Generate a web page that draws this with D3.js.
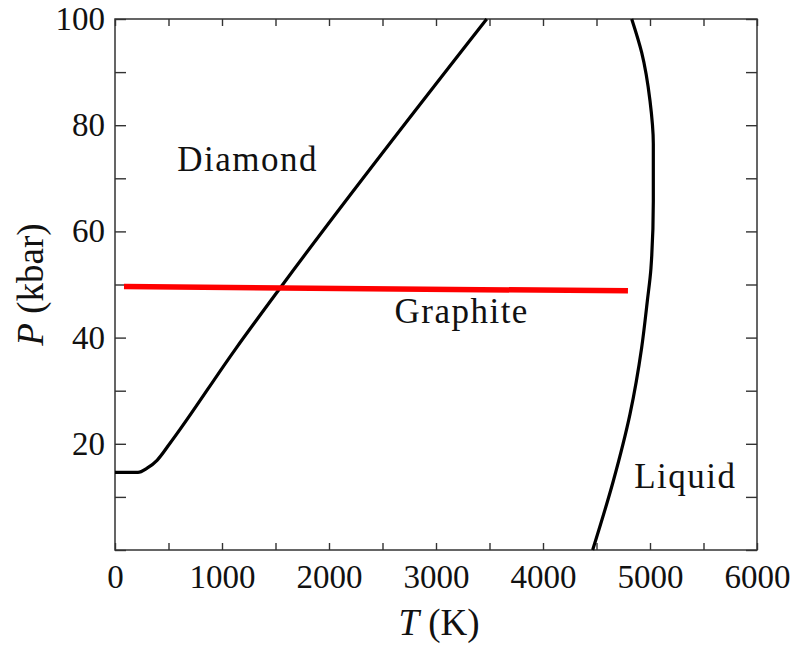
<!DOCTYPE html>
<html>
<head>
<meta charset="utf-8">
<script src="https://cdn.jsdelivr.net/npm/d3@7"></script>
<style>
  body { margin: 0; background: #fff; }
  text { font-family: "Liberation Serif", "Times New Roman", serif; fill: #111; }
</style>
</head>
<body>
<div id="chart"></div>
<script>
// Phase boundaries (T in K, P in kbar)
const diamondT = [0, 215, 300, 393, 514, 1121, 1542, 3474];
const diamondP = [14.6, 14.6, 15.4, 16.9, 20.1, 37.7, 49.3, 100];

const liquidT = [4829, 4922, 5000, 5031, 5031, 5009, 4975, 4922, 4813, 4657, 4464];
const liquidP = [100, 93.7, 84.6, 76.5, 65.7, 53.1, 46.9, 38.1, 25.6, 13, 0];

// red marker line
const redT = [84, 4794];
const redP = [49.6, 48.8];

const xTicks = [0, 500, 1000, 1500, 2000, 2500, 3000, 3500, 4000, 4500, 5000, 5500, 6000];
const yTicks = [0, 10, 20, 30, 40, 50, 60, 70, 80, 90, 100];

const regionLabels = ["Diamond", "Graphite", "Liquid"];
const labelT = [1240, 3240, 5330];
const labelP = [71.4, 42.8, 11.7];

// Set dimensions and margins
const margin = { top: 19, right: 41, bottom: 96, left: 115 },
      width = 798 - margin.left - margin.right,
      height = 646 - margin.top - margin.bottom;

const x = d3.scaleLinear().domain([0, 6000]).range([0, width]);
const y = d3.scaleLinear().domain([0, 100]).range([height, 0]);

const svg = d3.select("#chart")
  .append("svg")
    .attr("width", width + margin.left + margin.right)
    .attr("height", height + margin.top + margin.bottom)
  .append("g")
    .attr("transform", "translate(" + margin.left + "," + margin.top + ")");

// Axes, ticks pointing inwards
const fmtX = d => d % 1000 === 0 ? d : "";
const fmtY = d => (d % 20 === 0 && d > 0) ? d : "";

const axisStyle = g => {
  g.select(".domain").remove();
  g.selectAll(".tick line").attr("stroke", "#333").attr("stroke-width", 1.4);
  g.selectAll(".tick text").style("font-size", "33px").attr("fill", "#111");
};

svg.append("g")
  .attr("transform", "translate(0," + height + ")")
  .call(d3.axisBottom(x).tickValues(xTicks).tickSizeInner(-7).tickSizeOuter(0)
    .tickPadding(15).tickFormat(fmtX))
  .call(axisStyle);

svg.append("g")
  .call(d3.axisTop(x).tickValues(xTicks).tickSizeInner(-7).tickSizeOuter(0).tickFormat(""))
  .call(axisStyle);

svg.append("g")
  .call(d3.axisLeft(y).tickValues(yTicks).tickSizeInner(-11).tickSizeOuter(0)
    .tickPadding(10).tickFormat(fmtY))
  .call(axisStyle);

svg.append("g")
  .attr("transform", "translate(" + width + ",0)")
  .call(d3.axisRight(y).tickValues(yTicks).tickSizeInner(-11).tickSizeOuter(0).tickFormat(""))
  .call(axisStyle);

// Frame
svg.append("rect")
  .attr("width", width)
  .attr("height", height)
  .attr("fill", "none")
  .attr("stroke", "#333")
  .attr("stroke-width", 1.5);

// Diamond / graphite boundary
const diamondData = diamondT.map((t, i) => ({ t: t, p: diamondP[i] }));
svg.append("path")
  .datum(diamondData)
  .attr("fill", "none")
  .attr("stroke", "#000")
  .attr("stroke-width", 3.2)
  .attr("d", d3.line().x(d => x(d.t)).y(d => y(d.p)).curve(d3.curveMonotoneX));

// Graphite / liquid boundary
const liquidData = liquidT.map((t, i) => ({ t: t, p: liquidP[i] }));
svg.append("path")
  .datum(liquidData)
  .attr("fill", "none")
  .attr("stroke", "#000")
  .attr("stroke-width", 3.2)
  .attr("d", d3.line().x(d => x(d.t)).y(d => y(d.p)).curve(d3.curveMonotoneY));

// Red line
const redData = redT.map((t, i) => ({ t: t, p: redP[i] }));
svg.append("path")
  .datum(redData)
  .attr("fill", "none")
  .attr("stroke", "#ff0000")
  .attr("stroke-width", 5.5)
  .attr("d", d3.line().x(d => x(d.t)).y(d => y(d.p)));

// Region labels
svg.selectAll(".region")
  .data(regionLabels)
  .enter().append("text")
    .attr("class", "region")
    .attr("x", (d, i) => x(labelT[i]))
    .attr("y", (d, i) => y(labelP[i]))
    .attr("text-anchor", "middle")
    .style("font-size", "35px")
    .style("letter-spacing", "1.5px")
    .text(d => d);

// Axis titles
const xTitle = svg.append("text")
  .attr("x", width / 2 + 3)
  .attr("y", height + 85)
  .attr("text-anchor", "middle")
  .style("font-size", "37px");
xTitle.append("tspan").style("font-style", "italic").text("T");
xTitle.append("tspan").text(" (K)");

const yTitle = svg.append("text")
  .attr("transform", "translate(" + (-72) + "," + (height / 2) + ") rotate(-90)")
  .attr("text-anchor", "middle")
  .style("font-size", "37px");
yTitle.append("tspan").style("font-style", "italic").text("P");
yTitle.append("tspan").text(" (kbar)");
</script>
</body>
</html>
